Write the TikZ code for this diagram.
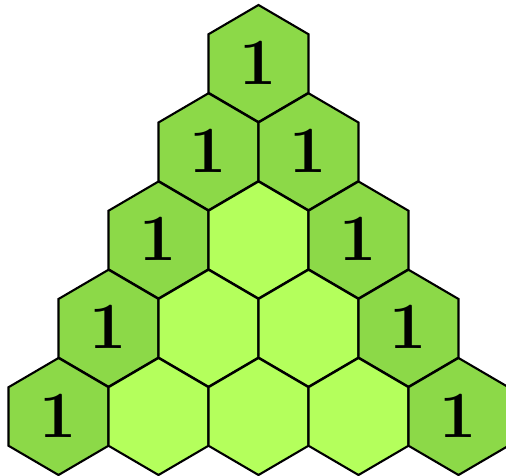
\documentclass[tikz,border=0pt]{standalone}
\usepackage{tikz}
\definecolor{edgegreen}{RGB}{140,217,72}
\definecolor{innergreen}{RGB}{180,255,92}
\tikzset{
  hexcell/.style={draw=black, line width=2.1pt, line join=miter},
  digit/.style={font=\fontsize{66}{66}\selectfont\bfseries, inner sep=0pt}
}
\newcommand{\hexat}[3]{%
  \fill[#3] (#1,#2+58.5) -- (#1+50,#2+29.25) -- (#1+50,#2-29.25) -- (#1,#2-58.5) -- (#1-50,#2-29.25) -- (#1-50,#2+29.25) -- cycle;
  \draw[hexcell] (#1,#2+58.5) -- (#1+50,#2+29.25) -- (#1+50,#2-29.25) -- (#1,#2-58.5) -- (#1-50,#2-29.25) -- (#1-50,#2+29.25) -- cycle;
}
\begin{document}
\begin{tikzpicture}[x=1pt,y=1pt]
\useasboundingbox (0,0) rectangle (506,476);
\foreach \r in {0,...,4}{
  \foreach \k in {0,...,\r}{
    \pgfmathsetmacro{\cx}{258.5-50*\r+100*\k}
    \pgfmathsetmacro{\cy}{476-63.5-88.25*\r}
    \pgfmathtruncatemacro{\isedge}{(\k==0 || \k==\r) ? 1 : 0}
    \ifnum\isedge=1
      \hexat{\cx}{\cy}{edgegreen}
      \node[digit] (n\r\k) at (\cx,\cy+1) {1};
    \else
      \hexat{\cx}{\cy}{innergreen}
    \fi
  }
}
\end{tikzpicture}
\end{document}
